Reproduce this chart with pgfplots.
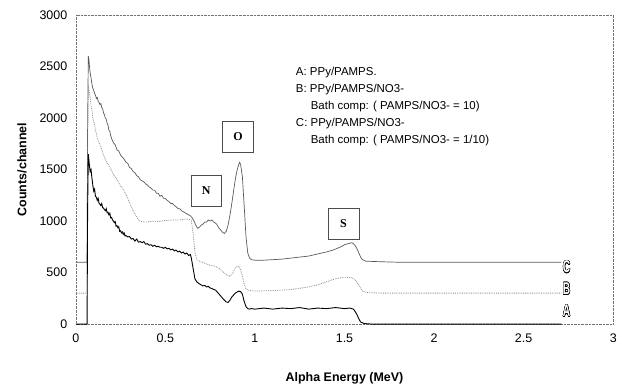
\documentclass[border=0pt]{standalone}
\usepackage{fontspec}
\setmainfont{Liberation Sans}
\newfontfamily\seriffont{Liberation Serif}
\usepackage{pgfplots}
\pgfplotsset{compat=1.18}
\usepackage{contour}
\contourlength{0.6pt}
\begin{document}
\begin{tikzpicture}
\path (-76pt,-63pt) rectangle (544pt,325pt);
\begin{axis}[
  at={(0,0)}, anchor=south west,
  scale only axis, width=539pt, height=310pt,
  xmin=0, xmax=3, ymin=0, ymax=3000,
  xtick={0,0.5,1,1.5,2,2.5,3},
  ytick={0,500,1000,1500,2000,2500,3000},
  major tick length=0pt,
  /pgf/number format/assume math mode=true,
  /pgf/number format/set thousands separator={},
  tick label style={font=\fontsize{12.5}{14}\selectfont},
  xticklabel style={yshift=-6pt},
  yticklabel style={xshift=-5pt},
  axis line style={black!55, densely dotted},
  xlabel={Alpha Energy (MeV)},
  ylabel={Counts/channel},
  label style={font=\fontsize{12.5}{14}\selectfont\bfseries},
  x label style={at={(axis description cs:0.5,-0.177)}, anchor=center},
  y label style={at={(axis description cs:-0.1,0.5)}, anchor=center},
  clip=false,
]
% C: PPy/PAMPS/NO3- (1/10), offset 600
\addplot[black!65, line width=0.7pt] coordinates {
(0,600) (0.063,600) (0.066,1900) (0.070,2600) (0.074,2560) (0.078,2470) (0.082,2420) (0.086,2380) (0.090,2330) (0.095,2290)
(0.100,2270) (0.105,2240) (0.110,2220) (0.115,2190) (0.120,2200) (0.125,2160) (0.130,2150) (0.135,2130) (0.140,2140) (0.145,2100)
(0.150,2090) (0.155,2050) (0.160,2030) (0.165,2000) (0.170,1990) (0.175,1950) (0.180,1930) (0.185,1880) (0.190,1870) (0.195,1830)
(0.200,1800) (0.21,1760) (0.22,1740) (0.23,1690) (0.24,1680) (0.25,1640) (0.26,1620) (0.27,1600) (0.28,1570) (0.29,1560)
(0.30,1520) (0.31,1510) (0.32,1480) (0.33,1470) (0.34,1440) (0.35,1430) (0.36,1400) (0.37,1390) (0.38,1380) (0.39,1360)
(0.40,1350) (0.41,1330) (0.42,1320) (0.43,1300) (0.44,1300) (0.45,1270) (0.46,1270) (0.47,1240) (0.48,1250) (0.49,1220)
(0.50,1220) (0.51,1200) (0.52,1190) (0.53,1170) (0.54,1170) (0.55,1150) (0.56,1140) (0.57,1120) (0.58,1120) (0.59,1100)
(0.60,1090) (0.61,1080) (0.62,1070) (0.63,1060) (0.64,1050) (0.65,1030) (0.66,1000) (0.67,960) (0.68,930) (0.69,940)
(0.70,960) (0.71,970) (0.72,990) (0.73,990) (0.74,1010) (0.75,1000) (0.76,1010) (0.77,990) (0.78,980) (0.79,960)
(0.80,930) (0.81,910) (0.82,890) (0.83,880) (0.84,900) (0.85,960) (0.86,1050) (0.87,1160) (0.88,1280) (0.89,1400)
(0.90,1490) (0.91,1550) (0.915,1570) (0.92,1550) (0.93,1430) (0.94,1150) (0.95,850) (0.96,690) (0.97,640) (0.98,625)
(1.00,620) (1.05,620) (1.10,625) (1.15,630) (1.20,640) (1.25,650) (1.30,660) (1.35,680) (1.40,700) (1.44,720)
(1.48,750) (1.50,770) (1.52,780) (1.54,790) (1.55,780) (1.56,760) (1.57,730) (1.58,690) (1.59,650) (1.60,625)
(1.62,610) (1.70,605) (1.80,600) (2.71,600)
};
% B: PPy/PAMPS/NO3- (10), offset 300
\addplot[black!45, densely dotted, line width=0.8pt] coordinates {
(0,300) (0.063,300) (0.066,1700) (0.070,2300) (0.075,2260) (0.080,2200) (0.085,2120) (0.090,2080) (0.095,2000)
(0.100,1960) (0.105,1930) (0.110,1880) (0.115,1850) (0.120,1800) (0.13,1760) (0.14,1720) (0.15,1660) (0.16,1620)
(0.17,1580) (0.18,1550) (0.19,1520) (0.20,1490) (0.21,1450) (0.22,1430) (0.23,1400) (0.24,1370) (0.25,1340)
(0.26,1320) (0.27,1290) (0.28,1260) (0.29,1220) (0.30,1180) (0.31,1140) (0.32,1100) (0.33,1070) (0.34,1040)
(0.35,1010) (0.36,1000) (0.38,990) (0.40,990) (0.43,1000) (0.46,995) (0.50,1005) (0.54,1010) (0.58,1010)
(0.62,1020) (0.645,1010) (0.655,880) (0.665,700) (0.675,630) (0.69,610) (0.72,590) (0.75,570) (0.78,560)
(0.80,540) (0.82,510) (0.84,480) (0.86,465) (0.87,480) (0.88,510) (0.89,540) (0.90,560) (0.91,560) (0.92,530)
(0.93,460) (0.94,390) (0.95,340) (0.97,325) (1.00,320) (1.10,325) (1.20,335) (1.30,360) (1.35,380) (1.40,410)
(1.45,440) (1.50,455) (1.54,450) (1.56,430) (1.58,380) (1.60,320) (1.63,305) (1.70,300) (2.71,300)
};
% A: PPy/PAMPS
\addplot[black, line width=0.9pt] coordinates {
(0,0) (0.063,0) (0.066,1100) (0.070,1650) (0.075,1560) (0.080,1480) (0.085,1500) (0.090,1420) (0.095,1350)
(0.100,1290) (0.105,1310) (0.110,1240) (0.115,1230) (0.120,1200) (0.125,1220) (0.130,1170) (0.135,1165) (0.140,1150)
(0.145,1170) (0.150,1130) (0.155,1125) (0.160,1110) (0.165,1100) (0.170,1120) (0.175,1080) (0.180,1085) (0.185,1060)
(0.190,1075) (0.195,1030) (0.200,1035) (0.205,1010) (0.210,1000) (0.215,985) (0.220,995) (0.225,950) (0.230,955)
(0.235,935) (0.240,945) (0.245,900) (0.250,905) (0.255,885) (0.260,895) (0.265,870) (0.270,885) (0.275,855)
(0.28,860) (0.29,845) (0.30,850) (0.31,825) (0.32,830) (0.33,805) (0.34,825) (0.35,795) (0.36,800) (0.37,790)
(0.38,800) (0.39,775) (0.40,780) (0.41,765) (0.42,770) (0.43,755) (0.44,765) (0.45,750) (0.46,755) (0.47,745)
(0.48,745) (0.49,735) (0.50,745) (0.51,730) (0.52,735) (0.53,720) (0.54,728) (0.55,710) (0.56,718) (0.57,700)
(0.58,708) (0.59,690) (0.60,698) (0.61,680) (0.62,690) (0.63,665) (0.64,675) (0.645,640) (0.655,540) (0.665,440)
(0.675,410) (0.69,390) (0.70,380) (0.71,370) (0.72,375) (0.73,360) (0.74,365) (0.75,350) (0.76,345) (0.77,335)
(0.78,330) (0.79,310) (0.80,290) (0.81,270) (0.82,250) (0.83,230) (0.84,215) (0.85,210) (0.86,230) (0.87,260)
(0.88,280) (0.89,300) (0.90,310) (0.91,320) (0.92,315) (0.93,290) (0.94,220) (0.95,170) (0.96,150) (0.97,145)
(0.98,150) (1.00,145) (1.05,155) (1.10,145) (1.15,155) (1.20,150) (1.25,160) (1.30,145) (1.35,155) (1.40,150)
(1.45,160) (1.50,150) (1.53,155) (1.55,145) (1.56,120) (1.57,90) (1.58,50) (1.59,20) (1.61,5) (1.65,0) (2.71,0)
};
% element boxes
\begin{scope}[every node/.style={draw=black!70, minimum width=31pt, minimum height=31pt, font=\seriffont\bfseries\fontsize{12}{13}\selectfont}]
\node at (axis cs:0.728,1297) {N};
\node at (axis cs:0.906,1820) {O};
\node at (axis cs:1.494,978) {S};
\end{scope}
% legend text
\begin{scope}[every node/.style={anchor=west, inner sep=0pt, font=\fontsize{11.5}{13}\selectfont}]
\node at (axis cs:1.228,2440) {A: PPy/PAMPS.};
\node at (axis cs:1.228,2275) {B: PPy/PAMPS/NO3-};
\node at (axis cs:1.311,2110) {Bath comp: ( PAMPS/NO3- = 10)};
\node at (axis cs:1.228,1945) {C: PPy/PAMPS/NO3-};
\node at (axis cs:1.311,1780) {Bath comp: ( PAMPS/NO3- = 1/10)};
\end{scope}
% curve letters
\begin{scope}[every node/.style={inner sep=0pt, font=\fontsize{17}{18}\selectfont\bfseries}]
\node at (axis cs:2.74,552) {\scalebox{0.6}[1]{\contour{black}{\textcolor{white}{C}}}};
\node at (axis cs:2.74,340) {\scalebox{0.6}[1]{\contour{black}{\textcolor{white}{B}}}};
\node at (axis cs:2.74,125) {\scalebox{0.6}[1]{\contour{black}{\textcolor{white}{A}}}};
\end{scope}
\end{axis}
\end{tikzpicture}
\end{document}
